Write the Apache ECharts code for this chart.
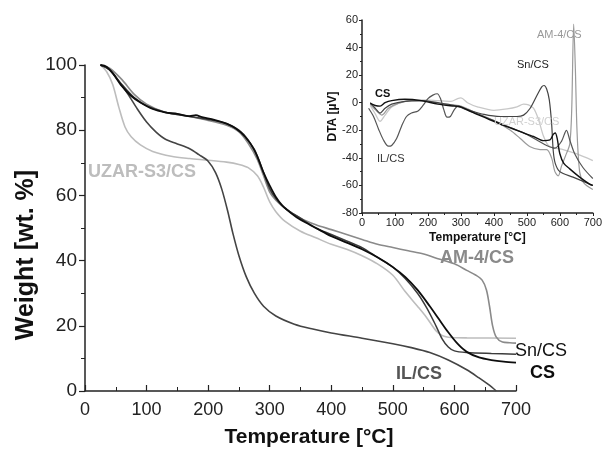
<!DOCTYPE html>
<html>
<head>
<meta charset="utf-8">
<script src="https://cdn.jsdelivr.net/npm/echarts@6/dist/echarts.min.js"></script>
<style>
html,body{margin:0;padding:0;background:#fff;}
#main{width:605px;height:457px;}
</style>
</head>
<body>
<div id="main"></div>
<script>
'use strict'
// TGA curves, [temperature °C, weight %]
const tgaCS = [[25,100],[35,99.5],[45,97.5],[60,93.5],[75,90.5],[90,88.5],[110,86.5],[130,85.5],[150,85],[170,84.3],[180,84.6],[190,84],[210,83.2],[230,82],[245,80.5],[260,78],[275,74],[290,67],[300,63],[310,59.5],[320,57],[335,54.5],[350,52.5],[375,50],[400,47.5],[425,45.5],[450,43.5],[475,41],[500,38],[520,35],[540,31],[560,26],[575,22],[590,18],[605,14.5],[620,12],[640,10.3],[660,9.5],[680,9],[700,8.7]];
const tgaSn = [[25,100],[40,98.5],[60,94],[80,90],[100,87.5],[130,85.5],[160,84.5],[200,83.3],[230,82],[250,80],[265,77],[280,72],[290,67],[300,62],[310,59],[325,56],[350,53],[375,50],[400,48],[425,46],[450,44],[475,41],[500,38],[520,34.5],[540,30],[555,25.5],[570,20],[580,16],[590,13.5],[600,12.3],[620,11.8],[660,11.5],[700,11.3]];
const tgaAM = [[25,100],[40,99],[60,95.5],[80,91],[100,88],[130,85.5],[160,84.5],[200,83],[230,81.5],[250,79.5],[265,76],[280,71],[290,66],[300,61],[310,58.5],[325,56],[350,53],[375,51],[400,49.5],[425,48],[450,46.5],[475,45],[500,44],[525,43],[550,42],[575,40.5],[600,39],[620,37],[635,35.5],[645,34],[652,31],[657,26],[662,20],[668,16.5],[678,15],[690,14.8],[700,14.7]];
const tgaUZ = [[25,100],[35,98],[45,94],[55,87],[65,81],[75,78],[90,75.5],[110,73.5],[140,72],[170,71.3],[200,70.8],[230,70.2],[250,69.5],[265,68.5],[280,66],[290,62.5],[300,58],[310,55],[325,52],[350,49],[375,47],[400,45],[425,43.5],[450,41.5],[475,39],[500,35.5],[520,30.5],[540,26],[555,22.5],[570,18.5],[580,17],[590,16.5],[620,16.3],[700,16.2]];
const tgaIL = [[25,100],[40,98.5],[55,95],[70,91],[85,86.5],[100,82.5],[115,79.5],[130,77.3],[150,75.8],[170,74.3],[185,72.5],[200,70.5],[212,67],[222,62],[232,55],[240,48.5],[250,41.5],[262,35],[275,30],[290,26],[310,23],[340,20.5],[370,19],[400,17.8],[450,16.2],[500,14.5],[530,13.3],[560,11.8],[590,9.5],[620,6.5],[640,4],[655,2],[668,0]];

// DTA curves (inset), [temperature °C, µV]
const dtaCS = [[25,-0.5],[40,-2],[55,-2.5],[70,0],[90,1.5],[130,2.5],[180,1.5],[230,-1],[280,-2.5],[300,-3],[330,-6.5],[380,-11.5],[430,-16.5],[480,-21],[520,-24.5],[550,-27.5],[570,-27],[580,-23],[586,-22],[592,-26],[600,-37],[612,-44],[630,-48],[660,-54],[690,-59],[700,-60]];
const dtaSn = [[25,0],[40,-4],[55,-7.5],[70,-4],[90,-1],[130,1],[180,1.5],[230,0],[280,-2],[320,-5],[370,-8.5],[420,-10],[470,-10],[490,-9],[510,-4],[530,5],[545,11.5],[552,12.5],[560,10],[568,2],[575,-15],[580,-35],[586,-44],[600,-50],[640,-54],[680,-58],[700,-60]];
const dtaIL = [[20,-4],[35,-10],[50,-19],[65,-27],[80,-31.5],[90,-31],[105,-26],[120,-17],[135,-10],[150,-7.5],[170,-6],[185,-2],[200,3],[215,5.5],[228,6.5],[238,3],[248,-5],[258,-10.5],[268,-10],[280,-5],[292,-2.5],[310,-4.5],[350,-8],[400,-13],[450,-18],[500,-23],[530,-27],[560,-31],[585,-33],[605,-28],[620,-20],[630,-27],[645,-37],[670,-47],[700,-55]];
const dtaAM = [[25,-1],[40,-5],[60,-9],[80,-4],[110,-0.5],[150,1.5],[200,1],[250,-1],[300,-2.5],[350,-8],[400,-13],[450,-20],[480,-26],[510,-32],[540,-34],[560,-34],[575,-40],[585,-50],[595,-53],[605,-46],[618,-38],[630,-30],[636,-5],[642,57],[647,25],[652,-20],[660,-50],[672,-58],[700,-63]];
const dtaUZ = [[25,-2],[40,-8],[55,-13.5],[70,-9],[90,-3],[130,1],[180,2],[230,1.5],[270,1],[290,3],[300,3.5],[320,0],[350,-3],[400,-5.5],[440,-4.5],[470,-3],[490,-1],[505,-1.5],[520,-4],[535,-12],[550,-24],[565,-31],[585,-33],[610,-34],[650,-37],[700,-42]];

const chart = echarts.init(document.getElementById('main'), null, {renderer: 'canvas'});
const ff = 'Liberation Sans, Arial, sans-serif';

function line(name, data, color, w, idx) {
	return {
		name: name, type: 'line', data: data,
		xAxisIndex: idx, yAxisIndex: idx,
		showSymbol: false, smooth: 0.3,
		lineStyle: {color: color, width: w},
		silent: true, animation: false
	}
}
function axisBase(fs) {
	return {
		axisLine: {show: true, onZero: false, lineStyle: {color: '#222', width: 1.5}},
		axisTick: {show: true, lineStyle: {color: '#222', width: 1.2}},
		minorTick: {show: true, splitNumber: 2, lineStyle: {color: '#222', width: 1}},
		splitLine: {show: false},
		axisLabel: {color: '#222', fontSize: fs, fontFamily: ff}
	}
}
function lbl(text, x, y, color, size, bold) {
	return {type: 'text', left: x, top: y, z: 100,
		style: {text: text, fill: color, fontSize: size, fontWeight: bold ? 'bold' : 'normal', fontFamily: ff}}
}

let option = {
	animation: false,
	grid: [
		{left: 85, right: 89, top: 65, bottom: 66},
		{left: 362, right: 3, top: 20, bottom: 244}
	],
	xAxis: [
		Object.assign(axisBase(18), {
			type: 'value', gridIndex: 0, min: 0, max: 700, interval: 100,
			axisLabel: {color: '#222', fontSize: 18, fontFamily: ff, margin: 10},
			axisTick: {show: true, inside: true, length: 6, lineStyle: {color: '#222', width: 1.2}},
			minorTick: {show: true, splitNumber: 2, length: 4, lineStyle: {color: '#222', width: 1}}
		}),
		Object.assign(axisBase(11), {
			type: 'value', gridIndex: 1, min: 0, max: 700, interval: 100,
			name: 'Temperature [°C]', nameLocation: 'middle', nameGap: 19,
			nameTextStyle: {color: '#111', fontSize: 12, fontWeight: 'bold', fontFamily: ff},
			axisLabel: {color: '#222', fontSize: 11, fontFamily: ff, margin: 4},
			axisTick: {show: true, length: 3, lineStyle: {color: '#222'}},
			minorTick: {show: true, splitNumber: 2, length: 2, lineStyle: {color: '#222'}}
		})
	],
	yAxis: [
		Object.assign(axisBase(18), {
			type: 'value', gridIndex: 0, min: 0, max: 100, interval: 20,
			axisTick: {show: true, length: 6, lineStyle: {color: '#222', width: 1.2}},
			minorTick: {show: true, splitNumber: 2, length: 4, lineStyle: {color: '#222', width: 1}},
			axisLabel: {color: '#222', fontSize: 19, fontFamily: ff, margin: 8}
		}),
		Object.assign(axisBase(11), {
			type: 'value', gridIndex: 1, min: -80, max: 60, interval: 20,
			name: 'DTA [µV]', nameLocation: 'middle', nameGap: 20,
			nameTextStyle: {color: '#111', fontSize: 12, fontWeight: 'bold', fontFamily: ff},
			axisLabel: {color: '#222', fontSize: 11, fontFamily: ff, margin: 4},
			axisTick: {show: true, length: 3, lineStyle: {color: '#222'}},
			minorTick: {show: true, splitNumber: 2, length: 2, lineStyle: {color: '#222'}}
		})
	],
	series: [
		line('UZAR-S3/CS', tgaUZ, '#bdbdbd', 1.6, 0),
		line('AM-4/CS', tgaAM, '#8a8a8a', 1.6, 0),
		line('IL/CS', tgaIL, '#444', 1.6, 0),
		line('Sn/CS', tgaSn, '#3c3c3c', 1.5, 0),
		line('CS', tgaCS, '#0d0d0d', 1.8, 0),
		line('UZAR-S3/CS', dtaUZ, '#c8c8c8', 1.3, 1),
		line('AM-4/CS', dtaAM, '#9a9a9a', 1.2, 1),
		line('IL/CS', dtaIL, '#555', 1.2, 1),
		line('Sn/CS', dtaSn, '#444', 1.2, 1),
		line('CS', dtaCS, '#111', 1.4, 1)
	],
	graphic: [
		{type: 'text', x: 309, y: 437, z: 100,
			style: {text: 'Temperature [°C]', fill: '#111', fontSize: 21, fontWeight: 'bold', fontFamily: ff, align: 'center', verticalAlign: 'middle'}},
		{type: 'text', x: 26, y: 255, rotation: Math.PI / 2, z: 100,
			style: {text: 'Weight [wt. %]', fill: '#111', fontSize: 25, fontWeight: 'bold', fontFamily: ff, align: 'center', verticalAlign: 'middle'}},
		lbl('UZAR-S3/CS', 88, 163, '#bdbdbd', 18, true),
		lbl('AM-4/CS', 440, 249, '#8a8a8a', 18, true),
		lbl('Sn/CS', 515, 342, '#111', 18, false),
		lbl('CS', 530, 364, '#0d0d0d', 18, true),
		lbl('IL/CS', 396, 365, '#555', 18, true),
		lbl('CS', 375, 88, '#111', 11, true),
		lbl('IL/CS', 377, 153, '#333', 11, false),
		lbl('Sn/CS', 517, 59, '#222', 11, false),
		lbl('AM-4/CS', 537, 29, '#999', 11, false),
		lbl('UZAR-S3/CS', 494, 116, '#d0d0d0', 11, false)
	]
};
chart.setOption(option);
</script>
</body>
</html>
